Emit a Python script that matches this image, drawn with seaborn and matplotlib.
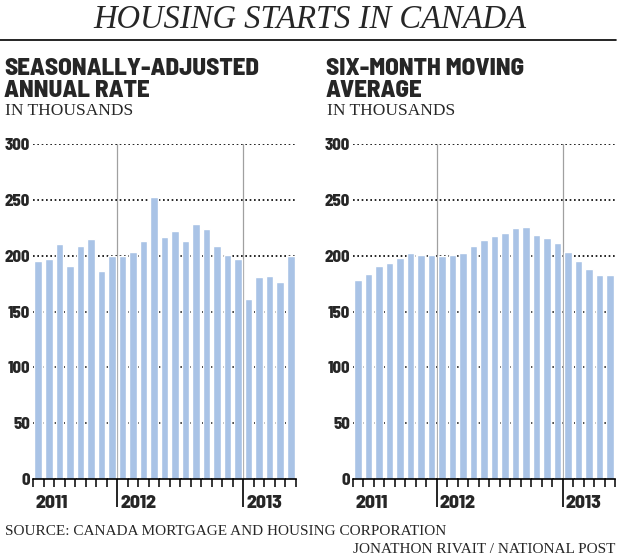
import numpy as np
import pandas as pd
import matplotlib
matplotlib.use("Agg")
import matplotlib.pyplot as plt
import seaborn as sns

# monthly housing starts, thousands (May 2011 - May 2013)
months = list(pd.period_range("2011-05", "2013-05", freq="M").strftime("%Y-%m"))
sa_rate = [195, 197, 210.5, 191, 208.5, 214.5, 186, 199.5,
           199.5, 203, 213, 252.5, 217, 222, 213, 228, 224, 208.5, 201, 197,
           161, 181, 181.5, 176, 200]
moving_avg = [178.5, 184, 191, 193.5, 197.5, 202.5, 200.5, 201,
              199.5, 201, 202.5, 209, 214, 218, 220, 224.5, 226, 218.5, 216, 211.5,
              203.5, 195, 188.5, 182.5, 182.5]
year_labels = ["2011", "2012", "2013"]
year_start_idx = [0, 8, 20]
y_ticks = [0, 50, 100, 150, 200, 250, 300]

panel_titles = [("SEASONALLY-ADJUSTED", "ANNUAL RATE"), ("SIX-MONTH MOVING", "AVERAGE")]

BAR = "#a9c3e6"
COND = ["Barlow Semi Condensed", "Barlow Condensed", "DejaVu Sans"]
SERIF = ["Liberation Serif", "DejaVu Serif"]

sns.set_style("white")
plt.rcParams["font.family"] = COND

df = pd.DataFrame({"month": months, "sa": sa_rate, "ma": moving_avg})

fig = plt.figure(figsize=(6.2, 5.57), dpi=100)
W, H = 620, 557

def add_panel(left_px, right_px, col):
    ax = fig.add_axes([left_px / W, (H - 479) / H, (right_px - left_px) / W, 335 / H])
    sns.barplot(data=df, x="month", y=col, color=BAR, width=0.72, saturation=1, ax=ax)
    ax.set_xlim(-0.5, len(months) - 0.5)
    ax.set_ylim(0, 300)
    ax.set_yticks(y_ticks)
    ax.set_yticklabels([str(v) for v in y_ticks], fontsize=12, fontweight=800)
    ax.tick_params(axis="y", length=0, pad=2)
    ax.set_xlabel("")
    ax.set_ylabel("")
    ax.grid(axis="y", color="black", linestyle=(0, (1, 1.6)), linewidth=1.2)
    ax.grid(axis="x", visible=False)
    ax.set_axisbelow(True)
    for s in ["top", "right", "left"]:
        ax.spines[s].set_visible(False)
    ax.spines["bottom"].set_color("black")
    ax.spines["bottom"].set_linewidth(1.2)

    bounds = np.arange(len(months) + 1) - 0.5
    year_b = [year_start_idx[i] - 0.5 for i in range(len(year_labels))]
    ax.set_xticks(bounds, minor=True)
    ax.set_xticks(year_b[1:])
    ax.set_xticklabels([])
    ax.tick_params(axis="x", which="minor", direction="out", length=5.8, width=1.1,
                   color="black", bottom=True)
    ax.tick_params(axis="x", which="major", direction="out", length=20, width=1.2,
                   color="black", bottom=True, labelbottom=False)
    for b in year_b[1:]:
        ax.axvline(b, color="#a0a0a0", linewidth=0.9, zorder=0.5)
    for lab, b in zip(year_labels, year_b):
        ax.annotate(lab, xy=(b, 0), xycoords=("data", "axes fraction"),
                    xytext=(3 if b > 0 else 2, -28.5), textcoords="offset pixels",
                    ha="left", va="baseline", fontsize=14, fontweight=800)
    return ax

add_panel(33, 296, "sa")
add_panel(353, 615, "ma")

# titles
fig.text(0.5, 1 - 27.5 / H, "HOUSING STARTS IN CANADA", ha="center", va="baseline",
         fontsize=23.5, fontstyle="italic", family=SERIF)
fig.add_artist(plt.Line2D([0, 616 / W], [1 - 39.5 / H] * 2, color="black", linewidth=1.2))

for x_px, (l1, l2) in zip([4, 326], panel_titles):
    fig.text(x_px / W, 1 - 75 / H, l1, ha="left", va="baseline", fontsize=18, fontweight=800)
    fig.text(x_px / W, 1 - 97 / H, l2, ha="left", va="baseline", fontsize=18, fontweight=800)
    fig.text((x_px + 1) / W, 1 - 115 / H, "IN THOUSANDS", ha="left", va="baseline",
             fontsize=12.5, family=SERIF)

fig.text(5 / W, 1 - 535 / H, "SOURCE: CANADA MORTGAGE AND HOUSING CORPORATION",
         ha="left", va="baseline", fontsize=11, family=SERIF)
fig.text(615 / W, 1 - 553 / H, "JONATHON RIVAIT / NATIONAL POST",
         ha="right", va="baseline", fontsize=11, family=SERIF)

fig.savefig("out.png", dpi=100)
